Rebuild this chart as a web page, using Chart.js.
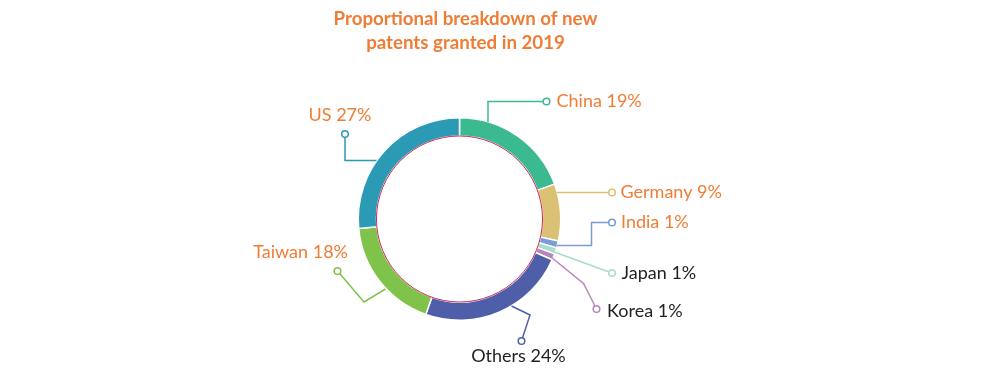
<!DOCTYPE html>
<html>
<head>
<meta charset="utf-8">
<script src="https://cdn.jsdelivr.net/npm/chart.js@4"></script>
<style>
  html, body { margin: 0; padding: 0; background: #fff; }
  #wrap { width: 999px; height: 372px; position: relative; }
</style>
</head>
<body>
<div id="wrap"><canvas id="patentChart" width="999" height="372"></canvas></div>
<script>
// data (share of new patents, %)
const countries = ["China", "Germany", "India", "Japan", "Korea", "Others", "Taiwan", "US"];
const shares = [19.4, 9.1, 1.1, 1.0, 1.0, 23.8, 18.1, 26.5];
const sliceColors = ["#3bba91", "#dbc173", "#7b9bd4", "#a9dccf", "#b886bf", "#4f5ea8", "#80c34b", "#2a9ab5"];
const titleLines = ["Proportional breakdown of new", "patents granted in 2019"];

const ORANGE = "#ef7d35";
const DARK = "#231f20";
const FONT = "Lato, 'Noto Sans', sans-serif";

// leader line layout, offsets from the doughnut centre
const leaders = [
  { pts: [[28.5, -97], [28.5, -117.5], [87, -117.5]], text: [97, -117.5], align: "left", color: ORANGE },
  { pts: [[97, -26.5], [152.5, -26.5]], text: [161, -26.5], align: "left", color: ORANGE },
  { pts: [[97, 26.5], [132, 26.5], [132, 3.5], [152.5, 3.5]], text: [161.5, 3.5], align: "left", color: ORANGE },
  { pts: [[92, 32], [152.5, 54]], text: [162, 54], align: "left", color: DARK },
  { pts: [[89, 36], [124, 64.5], [137, 90]], text: [147.5, 92], align: "left", color: DARK },
  { pts: [[52, 87], [70.5, 96], [62, 122]], text: [59, 137.5], align: "center", color: DARK },
  { pts: [[-74, 70], [-95.5, 83], [-122, 52]], text: [-111.5, 33], align: "right", color: ORANGE },
  { pts: [[-83, -58.5], [-114.5, -58.5], [-114.5, -85]], text: [-119.5, -104], align: "center", color: ORANGE }
];

const labelPlugin = {
  id: "labelPlugin",
  afterDatasetsDraw(chart) {
    const ctx = chart.ctx;
    const arc = chart.getDatasetMeta(0).data[0];
    const cx = arc.x, cy = arc.y;

    // thin line round the hole
    ctx.save();
    ctx.beginPath();
    ctx.arc(cx, cy, arc.innerRadius, 0, Math.PI * 2);
    ctx.strokeStyle = "#c8285a";
    ctx.lineWidth = 1;
    ctx.stroke();

    leaders.forEach(function (l, i) {
      ctx.beginPath();
      l.pts.forEach(function (p, j) {
        if (j === 0) ctx.moveTo(cx + p[0], cy + p[1]);
        else ctx.lineTo(cx + p[0], cy + p[1]);
      });
      ctx.strokeStyle = sliceColors[i];
      ctx.lineWidth = 1.5;
      ctx.stroke();

      const end = l.pts[l.pts.length - 1];
      ctx.beginPath();
      ctx.arc(cx + end[0], cy + end[1], 3.3, 0, Math.PI * 2);
      ctx.fillStyle = "#fff";
      ctx.fill();
      ctx.stroke();

      ctx.font = "18px " + FONT;
      ctx.fillStyle = l.color;
      ctx.textAlign = l.align;
      ctx.textBaseline = "middle";
      ctx.fillText(countries[i] + " " + Math.round(shares[i]) + "%", cx + l.text[0], cy + l.text[1]);
    });

    // title
    ctx.font = "bold 18.7px " + FONT;
    ctx.fillStyle = ORANGE;
    ctx.textAlign = "center";
    ctx.textBaseline = "middle";
    ctx.fillText(titleLines[0], 465.5, 18.5);
    ctx.fillText(titleLines[1], 465.5, 43);
    ctx.restore();
  }
};

new Chart(document.getElementById("patentChart").getContext("2d"), {
  type: "doughnut",
  data: {
    labels: countries,
    datasets: [{
      data: shares,
      backgroundColor: sliceColors,
      borderColor: "#ffffff",
      borderWidth: 1.5
    }]
  },
  options: {
    responsive: false,
    animation: false,
    cutout: "82%",
    layout: { padding: { top: 117, bottom: 51, left: 0, right: 80 } },
    plugins: {
      legend: { display: false },
      title: { display: false },
      tooltip: { enabled: false }
    }
  },
  plugins: [labelPlugin]
});
</script>
</body>
</html>
